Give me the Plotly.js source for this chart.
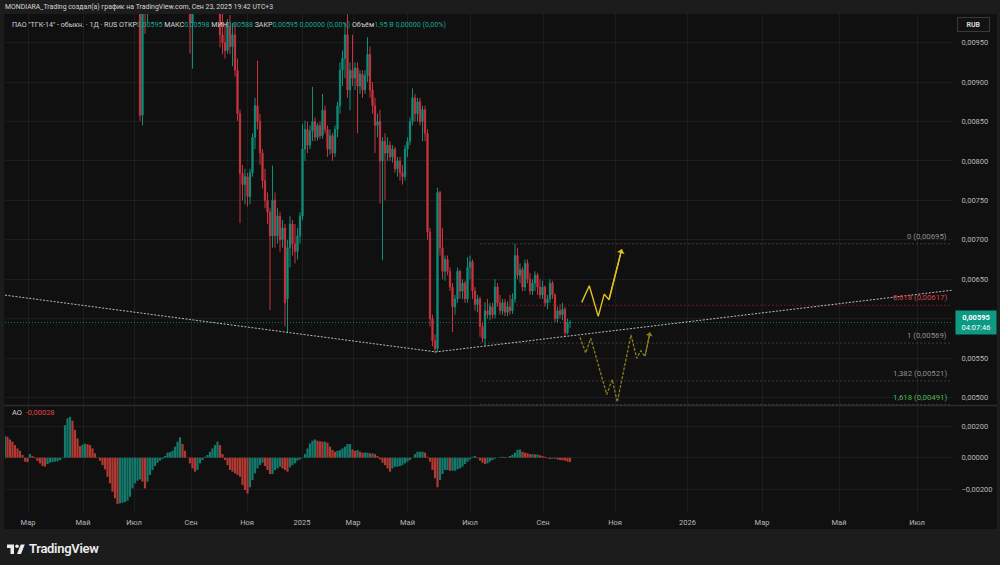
<!DOCTYPE html>
<html><head><meta charset="utf-8">
<script src="https://cdn.plot.ly/plotly-3.0.1.min.js"></script>
<style>
html,body{margin:0;padding:0;background:#1c1c1c;width:1000px;height:565px;overflow:hidden;font-family:Roboto,"Noto Sans",sans-serif;}
#hdr{position:absolute;left:5px;top:1px;font-size:6.9px;color:#d6d6d6;line-height:12px;white-space:nowrap;}
#chart{position:absolute;left:4px;top:14px;width:993px;height:515px;}
#logo{position:absolute;left:7px;top:541px;height:14px;display:flex;align-items:center;color:#ececec;font-size:13px;font-weight:600;letter-spacing:-0.3px;}
#logo svg{margin-right:4px;}
</style></head><body>
<div id="hdr">MONDIARA_Trading создал(а) график на TradingView.com, Сен 23, 2025 19:42 UTC+3</div>
<div id="chart"></div>
<div id="logo"><svg width="18" height="11" viewBox="0 0 36 22"><path d="M14 22H7V10H0V3h14z" fill="#ececec"/><circle cx="20" cy="6.5" r="3.5" fill="#ececec"/><path d="M28 22h-8l7.5-19h8z" fill="#ececec"/></svg><span>TradingView</span></div>
<script>
// ---------- data ----------
const tickLabels = ['Мар','Май','Июл','Сен','Ноя','2025','Мар','Май','Июл','Сен','Ноя','2026','Мар','Май','Июл'];
const tickIdx = [9.2,31.2,51.6,74.4,96.8,118.8,139.2,161,186,215.2,244,273,302.8,333.6,364.8];
const priceTicks = [0.005,0.0055,0.006,0.0065,0.007,0.0075,0.008,0.0085,0.009,0.0095];
const aoTicks = [-0.002,0,0.002];

const firstBar = 54;
const candles = [ // [open, high, low, close]
[0.01030,0.01040,0.00851,0.00858],[0.00858,0.01010,0.00845,0.01000],[0.01000,0.01030,0.00961,0.00990],[0.00990,0.01020,0.00975,0.01010],
[0.0101,0.0104,0.0100,0.0103],[0.0103,0.0106,0.0102,0.0105],[0.0105,0.0107,0.0103,0.0104],[0.0104,0.0106,0.0102,0.0103],
[0.0103,0.0105,0.0101,0.0104],[0.0104,0.0107,0.0103,0.0106],[0.0106,0.0108,0.0104,0.0105],[0.0105,0.0107,0.0103,0.0104],
[0.0104,0.0106,0.0102,0.0103],[0.0103,0.0105,0.0101,0.0102],[0.0102,0.0104,0.0100,0.0103],[0.0103,0.0105,0.0101,0.0102],
[0.0102,0.0104,0.0100,0.0101],[0.0101,0.0103,0.00995,0.0102],[0.0102,0.0104,0.0100,0.0101],[0.0101,0.0103,0.0099,0.0100],
[0.0100,0.0101,0.00936,0.00975],[0.00975,0.0101,0.00917,0.0100],
[0.0100,0.0103,0.00995,0.0102],[0.0102,0.0105,0.0101,0.0104],[0.0104,0.0106,0.0102,0.0103],[0.0103,0.0105,0.0101,0.0104],
[0.0104,0.0106,0.0102,0.0105],[0.0105,0.0107,0.0103,0.0104],[0.0104,0.0106,0.0102,0.0103],[0.0103,0.0105,0.0101,0.0102],
[0.0102,0.0104,0.0100,0.0101],[0.0101,0.0103,0.00995,0.0100],
[0.01000,0.01020,0.00944,0.00960],[0.00960,0.00990,0.00935,0.00950],[0.00950,0.00975,0.00930,0.00940],[0.00940,0.00980,0.00936,0.00970],
[0.00970,0.00985,0.00935,0.00945],[0.00945,0.00975,0.00920,0.00960],[0.00960,0.00975,0.00907,0.00915],[0.00915,0.00930,0.00851,0.00860],
[0.00860,0.00865,0.00721,0.00784],[0.00784,0.00795,0.00750,0.00770],[0.00770,0.00790,0.00745,0.00780],[0.00780,0.00785,0.00742,0.00755],
[0.00755,0.00790,0.00745,0.00785],[0.00785,0.00835,0.00780,0.00830],[0.00830,0.00880,0.00815,0.00870],[0.00870,0.00927,0.00840,0.00850],
[0.00850,0.00860,0.00795,0.00810],[0.00810,0.00815,0.00765,0.00775],[0.00775,0.00790,0.00740,0.00750],[0.00750,0.00760,0.00720,0.00735],
[0.00735,0.00740,0.00611,0.00705],[0.00705,0.00794,0.00690,0.00750],[0.00750,0.00760,0.00690,0.00705],[0.00705,0.00740,0.00695,0.00730],
[0.00730,0.00735,0.00685,0.00700],[0.00700,0.00725,0.00690,0.00715],[0.00715,0.00720,0.00590,0.00620],[0.00625,0.00700,0.00582,0.00690],
[0.00690,0.00730,0.00665,0.00720],[0.00720,0.00725,0.00680,0.00695],[0.00695,0.00720,0.00670,0.00685],[0.00685,0.00715,0.00675,0.00705],
[0.00705,0.00735,0.00695,0.00730],[0.00730,0.00847,0.00725,0.00815],[0.00815,0.00851,0.00800,0.00840],[0.00840,0.00850,0.00810,0.00820],
[0.00820,0.00845,0.00815,0.00838],[0.00838,0.00894,0.00825,0.00850],[0.00850,0.00855,0.00825,0.00830],[0.00830,0.00848,0.00826,0.00845],
[0.00845,0.00850,0.00828,0.00832],[0.00832,0.00885,0.00828,0.00864],[0.00864,0.00870,0.00835,0.00840],[0.00840,0.00845,0.00805,0.00815],
[0.00815,0.00840,0.00808,0.00832],[0.00832,0.00835,0.00800,0.00810],[0.00810,0.00845,0.00805,0.00840],[0.00840,0.00875,0.00830,0.00870],
[0.00870,0.00925,0.00860,0.00915],[0.00915,0.00940,0.00895,0.00930],[0.00930,0.00975,0.00905,0.00960],[0.00960,0.00986,0.00880,0.00890],
[0.00890,0.00925,0.00864,0.00915],[0.00915,0.00960,0.00895,0.00905],[0.00905,0.00925,0.00890,0.00918],[0.00918,0.00925,0.00835,0.00895],
[0.00895,0.00915,0.00885,0.00910],[0.00910,0.00915,0.00880,0.00890],[0.00890,0.00915,0.00885,0.00908],[0.00908,0.00957,0.00900,0.00935],
[0.00935,0.00945,0.00880,0.00890],[0.00890,0.00900,0.00860,0.00870],[0.00870,0.00880,0.00810,0.00845],[0.00845,0.00860,0.00830,0.00850],
[0.00850,0.00865,0.00746,0.00800],[0.00800,0.00830,0.00674,0.00825],[0.00825,0.00835,0.00750,0.00810],[0.00810,0.00830,0.00800,0.00820],
[0.00820,0.00825,0.00800,0.00805],[0.00805,0.00820,0.00798,0.00815],[0.00815,0.00818,0.00785,0.00790],[0.00790,0.00805,0.00780,0.00800],
[0.00800,0.00805,0.00775,0.00785],[0.00785,0.00795,0.00770,0.00780],[0.00780,0.00820,0.00775,0.00815],[0.00815,0.00830,0.00805,0.00825],
[0.00825,0.00855,0.00820,0.00850],[0.00850,0.00892,0.00845,0.00880],[0.00880,0.00885,0.00850,0.00860],[0.00860,0.00880,0.00850,0.00875],
[0.00875,0.00880,0.00845,0.00850],[0.00850,0.00870,0.00825,0.00865],[0.00865,0.00870,0.00825,0.00835],[0.00835,0.00840,0.00700,0.00710],
[0.00710,0.00715,0.00590,0.00600],[0.00600,0.00605,0.00565,0.00572],[0.00572,0.00580,0.00556,0.00562],[0.00562,0.00766,0.00558,0.00760],
[0.00760,0.00762,0.00680,0.00690],[0.00690,0.00715,0.00650,0.00660],[0.00660,0.00680,0.00648,0.00675],[0.00675,0.00680,0.00655,0.00660],
[0.00660,0.00665,0.00635,0.00640],[0.00640,0.00645,0.00583,0.00615],[0.00615,0.00630,0.00605,0.00625],[0.00625,0.00665,0.00620,0.00660],
[0.00660,0.00662,0.00625,0.00635],[0.00635,0.00650,0.00625,0.00645],[0.00645,0.00648,0.00620,0.00625],[0.00625,0.00678,0.00620,0.00665],
[0.00665,0.00680,0.00650,0.00672],[0.00672,0.00675,0.00625,0.00635],[0.00635,0.00640,0.00610,0.00618],[0.00618,0.00630,0.00608,0.00625],
[0.00625,0.00628,0.00577,0.00590],[0.00590,0.00595,0.00570,0.00575],[0.00575,0.00621,0.00565,0.00610],[0.00610,0.00625,0.00600,0.00605],
[0.00605,0.00620,0.00598,0.00615],[0.00615,0.00620,0.00600,0.00605],[0.00605,0.00650,0.00600,0.00640],[0.00640,0.00645,0.00615,0.00620],
[0.00620,0.00630,0.00605,0.00610],[0.00610,0.00625,0.00605,0.00620],[0.00620,0.00625,0.00603,0.00608],[0.00608,0.00622,0.00603,0.00615],
[0.00615,0.00630,0.00605,0.00610],[0.00610,0.00632,0.00606,0.00625],[0.00625,0.00695,0.00620,0.00680],[0.00680,0.00690,0.00650,0.00655],
[0.00655,0.00670,0.00645,0.00662],[0.00662,0.00665,0.00635,0.00640],[0.00640,0.00675,0.00635,0.00670],[0.00670,0.00675,0.00645,0.00650],
[0.00650,0.00658,0.00630,0.00635],[0.00635,0.00650,0.00630,0.00645],[0.00645,0.00660,0.00635,0.00655],[0.00655,0.00658,0.00630,0.00640],
[0.00640,0.00650,0.00625,0.00630],[0.00630,0.00648,0.00625,0.00640],[0.00640,0.00642,0.00615,0.00620],[0.00620,0.00630,0.00612,0.00625],
[0.00625,0.00650,0.00620,0.00645],[0.00645,0.00648,0.00625,0.00630],[0.00630,0.00632,0.00595,0.00600],[0.00600,0.00615,0.00595,0.00610],
[0.00610,0.00618,0.00600,0.00605],[0.00605,0.00620,0.00598,0.00612],[0.00612,0.00615,0.00577,0.00582],[0.00582,0.00600,0.00580,0.00595],
[0.00595,0.00598,0.00588,0.00595]
];

const aoValues = [
0.00138,0.00133,0.00116,0.00102,0.00080,0.00059,0.00044,0.00017,-0.00025,-0.00028,
0.00023,0.00011,-0.00004,-0.00021,-0.00036,-0.00053,-0.00057,-0.00040,-0.00032,-0.00028,
-0.00025,-0.00023,-0.00015,0.00002,0.00207,0.00250,0.00260,0.00235,0.00176,0.00123,
0.00074,0.00083,0.00089,0.00085,0.00080,0.00059,0.00028,0.00002,-0.00019,-0.00047,
-0.00074,-0.00121,-0.00163,-0.00216,-0.00258,-0.00294,-0.00290,-0.00286,-0.00282,-0.00273,
-0.00248,-0.00195,-0.00163,-0.00146,-0.00138,-0.00152,-0.00195,-0.00152,-0.00110,-0.00078,
-0.00053,-0.00032,-0.00019,-0.00008,0.00011,0.00032,0.00036,0.00044,0.00070,0.00102,
0.00129,0.00087,0.00044,0.00002,-0.00036,-0.00068,-0.00089,-0.00078,-0.00036,-0.00015,
0.00006,0.00017,0.00038,0.00059,0.00080,0.00102,0.00080,0.00023,-0.00015,-0.00047,
-0.00078,-0.00089,-0.00099,-0.00110,-0.00121,-0.00174,-0.00205,-0.00227,-0.00188,-0.00142,
-0.00099,-0.00068,-0.00047,-0.00032,-0.00053,-0.00078,-0.00104,-0.00104,-0.00078,-0.00068,
-0.00057,-0.00068,-0.00078,-0.00089,-0.00061,-0.00047,-0.00036,-0.00019,-0.00011,0.00002,
0.00023,0.00059,0.00091,0.00108,0.00116,0.00108,0.00104,0.00102,0.00102,0.00095,
0.00070,0.00049,0.00038,0.00044,0.00049,0.00059,0.00070,0.00087,0.00087,0.00053,
0.00044,0.00049,0.00038,0.00032,0.00032,0.00032,0.00028,0.00028,0.00023,0.00011,
-0.00011,-0.00032,-0.00047,-0.00068,-0.00089,-0.00068,-0.00057,-0.00057,-0.00053,-0.00047,
-0.00036,-0.00025,-0.00015,0.00002,0.00023,0.00038,0.00038,0.00038,0.00032,0.00006,
-0.00025,-0.00078,-0.00131,-0.00188,-0.00142,-0.00104,-0.00078,-0.00078,-0.00083,-0.00083,
-0.00083,-0.00074,-0.00068,-0.00057,-0.00040,-0.00025,-0.00011,0.00006,0.00011,-0.00004,
-0.00019,-0.00032,-0.00040,-0.00036,-0.00025,-0.00015,-0.00006,0.00000,0.00004,0.00006,
0.00004,0.00002,0.00011,0.00019,0.00032,0.00049,0.00053,0.00038,0.00032,0.00028,
0.00023,0.00023,0.00021,0.00021,0.00015,0.00011,0.00006,-0.00004,-0.00008,-0.00006,
-0.00006,-0.00011,-0.00015,-0.00017,-0.00019,-0.00025,-0.00028
];

const fibLevels = [0, 0.618, 1, 1.382, 1.618];
const fibPrices = [0.00695, 0.00617, 0.00569, 0.00521, 0.00491];
const fibStartIdx = 190;

const trendIdx = [0, 172.4, 379.2];
const trendPrice = [0.006298, 0.005578, 0.006362];

const zigUpIdx = [230.7, 233.7, 237.3, 239.7, 241.6, 246.7];
const zigUpPrice = [0.006206, 0.006416, 0.006029, 0.006311, 0.006239, 0.006880];
const zigDnIdx = [230, 232.3, 234.3, 240.7, 242.9, 244.9, 250.4, 252.7, 254.3, 256, 258];
const zigDnPrice = [0.005763, 0.005565, 0.005751, 0.005038, 0.005228, 0.004942, 0.005793, 0.005498, 0.005594, 0.005518, 0.005827];

const volumeText = '1,95 B';
const timerText = '04:07:46';

// ---------- styles ----------
const UP = '#0f8f7a', DN = '#c8333f';
const AO_UP = '#14796a', AO_DN = '#b03a33';
const GRID = 'rgba(255,255,255,0.055)';
const FONT = 'Roboto, "Noto Sans", sans-serif';
const TXT = '#b8b8b8';
const fibColors = ['#8f8f8f', '#d8404a', '#8f8f8f', '#8f8f8f', '#4fb556'];
const fibLineColors = ['#3c3c3c', '#5a2228', '#3c3c3c', '#3c3c3c', '#3c3c3c'];

const fmt = v => v.toFixed(5).replace('.', ',');
const candleIdx = candles.map((_, i) => firstBar + i);
const op = candles.map(r => r[0]), hi = candles.map(r => r[1]), lo = candles.map(r => r[2]), cl = candles.map(r => r[3]);
const aoIdx = aoValues.map((_, i) => i);
const aoColors = aoValues.map((v, i) => (i === 0 || v >= aoValues[i - 1]) ? AO_UP : AO_DN);

const last = candles[candles.length - 1];
const prevClose = candles[candles.length - 2][3];
const chg = last[3] - prevClose;
const chgPct = (chg / prevClose * 100).toFixed(2).replace('.', ',');
const lastAO = aoValues[aoValues.length - 1];

const traces = [
  {type:'bar', x:aoIdx, y:aoValues, xaxis:'x', yaxis:'y2', marker:{color:aoColors, line:{width:0}}, hoverinfo:'skip'},
  {type:'candlestick', x:candleIdx, open:op, high:hi, low:lo, close:cl, xaxis:'x', yaxis:'y',
   increasing:{line:{color:UP, width:1}, fillcolor:UP}, decreasing:{line:{color:DN, width:1}, fillcolor:DN},
   whiskerwidth:0, hoverinfo:'skip'},
  {type:'scatter', mode:'lines', x:trendIdx, y:trendPrice, xaxis:'x', yaxis:'y', line:{color:'rgba(215,215,215,0.85)', width:1, dash:'2px,1.5px'}, hoverinfo:'skip'},
  {type:'scatter', mode:'lines', x:zigUpIdx, y:zigUpPrice, xaxis:'x', yaxis:'y', line:{color:'#e0c21e', width:1.4}, hoverinfo:'skip'},
  {type:'scatter', mode:'lines', x:zigDnIdx, y:zigDnPrice, xaxis:'x', yaxis:'y', line:{color:'#8a7b1f', width:1.3, dash:'3px,1.5px'}, hoverinfo:'skip'}
];

const shapes = [];
fibPrices.forEach((p, i) => shapes.push({type:'line', xref:'x', yref:'y', x0:fibStartIdx, x1:380, y0:p, y1:p,
  line:{color:fibLineColors[i], width:1, dash:'2px,2px'}, layer:'below'}));
shapes.push({type:'line', xref:'paper', yref:'y', x0:0, x1:1, y0:last[3], y1:last[3], line:{color:'rgba(12,154,132,0.75)', width:1, dash:'1px,2px'}, layer:'below'});
shapes.push({type:'line', xref:'paper', yref:'paper', x0:-0.002, x1:1.048, y0:0.2139, y1:0.2139, line:{color:'#2c2c2c', width:1.5}});

const annotations = [];
fibPrices.forEach((p, i) => annotations.push({xref:'paper', yref:'y', x:0.997, y:p, xanchor:'right', yanchor:'bottom', yshift:1,
  text: String(fibLevels[i]).replace('.', ',') + ' (' + fmt(p) + ')', showarrow:false, font:{family:FONT, size:7.8, color:fibColors[i]}}));
const T = '#d4d4d4', V = '#1aa58f';
const sp = (c, t) => '<span style="color:' + c + '">' + t + '</span>';
annotations.push({xref:'paper', yref:'paper', x:0.0053, y:0.978, xanchor:'left', yanchor:'middle', showarrow:false,
  font:{family:FONT, size:7.1, color:T},
  text: sp(T, 'ПАО "ТГК-14" - обыкн. · 1Д · RUS ОТКР') + sp(V, fmt(last[0])) + sp(T, ' МАКС') + sp(V, fmt(last[1])) +
        sp(T, ' МИН') + sp(V, fmt(last[2])) + sp(T, ' ЗАКР') + sp(V, fmt(last[3])) + sp(V, ' ' + fmt(chg) + ' (' + chgPct + '%)') +
        sp(T, ' Объём') + sp(V, volumeText) + sp(V, ' ' + fmt(chg) + ' (' + chgPct + '%)')});
annotations.push({xref:'paper', yref:'paper', x:0.0053, y:0.2008, xanchor:'left', yanchor:'middle', showarrow:false,
  font:{family:FONT, size:7.5, color:T}, text: 'AO  ' + sp('#e0453d', fmt(lastAO).replace('−', '-'))});
annotations.push({xref:'paper', yref:'paper', x:1.0232, y:0.978, xanchor:'center', yanchor:'middle', showarrow:false,
  text:'<b>RUB</b>', font:{family:FONT, size:7, color:'#d8d8d8'}, bordercolor:'#3a3a3a', borderwidth:1, borderpad:2.5, bgcolor:'#121212', width:26});
annotations.push({xref:'paper', yref:'y', x:1.0033, y:last[3], xanchor:'left', yanchor:'middle', showarrow:false,
  text:'<b>' + fmt(last[3]) + '</b><br>' + timerText, align:'center', font:{family:FONT, size:7.5, color:'#ffffff'},
  bgcolor:'#0c9a84', borderpad:2, width:36});
const nU = zigUpIdx.length, nD = zigDnIdx.length;
annotations.push({xref:'x', yref:'y', axref:'x', ayref:'y', x:zigUpIdx[nU-1], y:zigUpPrice[nU-1], ax:zigUpIdx[nU-2], ay:zigUpPrice[nU-2],
  showarrow:true, arrowhead:1, arrowsize:1, arrowwidth:1.3, arrowcolor:'#e0c21e', text:''});
annotations.push({xref:'x', yref:'y', axref:'x', ayref:'y', x:zigDnIdx[nD-1], y:zigDnPrice[nD-1], ax:zigDnIdx[nD-2], ay:zigDnPrice[nD-2],
  showarrow:true, arrowhead:1, arrowsize:1, arrowwidth:1.2, arrowcolor:'#8a7b1f', text:''});

const axisBase = {showgrid:true, gridcolor:GRID, gridwidth:1, zeroline:false, showline:false, fixedrange:true,
  tickfont:{family:FONT, size:7.5, color:TXT}};
const layout = {
  width:993, height:515, margin:{l:1, r:45, t:0, b:17, pad:0},
  paper_bgcolor:'#101010', plot_bgcolor:'#101010', separators:', ', showlegend:false,
  bargap:0.12, font:{family:FONT, size:7.5, color:TXT},
  xaxis: Object.assign({}, axisBase, {range:[0, 378.8], tickmode:'array', tickvals:tickIdx, ticktext:tickLabels, ticks:'outside', ticklen:3,
    tickcolor:'rgba(0,0,0,0)', anchor:'y2', rangeslider:{visible:false}, automargin:false}),
  yaxis: Object.assign({}, axisBase, {domain:[0.2149, 1], range:[0.004905, 0.009863], side:'right', tickmode:'array', tickvals:priceTicks,
    tickformat:'.5f', ticks:'outside', ticklen:7, tickcolor:'rgba(0,0,0,0)', anchor:'x', automargin:false}),
  yaxis2: Object.assign({}, axisBase, {domain:[0, 0.2108], range:[-0.00345, 0.00322], side:'right', tickmode:'array', tickvals:aoTicks,
    tickformat:'.5f', ticks:'outside', ticklen:7, tickcolor:'rgba(0,0,0,0)', anchor:'x', automargin:false}),
  shapes: shapes, annotations: annotations
};
Plotly.newPlot('chart', traces, layout, {staticPlot:true, displayModeBar:false});
</script>
</body></html>
